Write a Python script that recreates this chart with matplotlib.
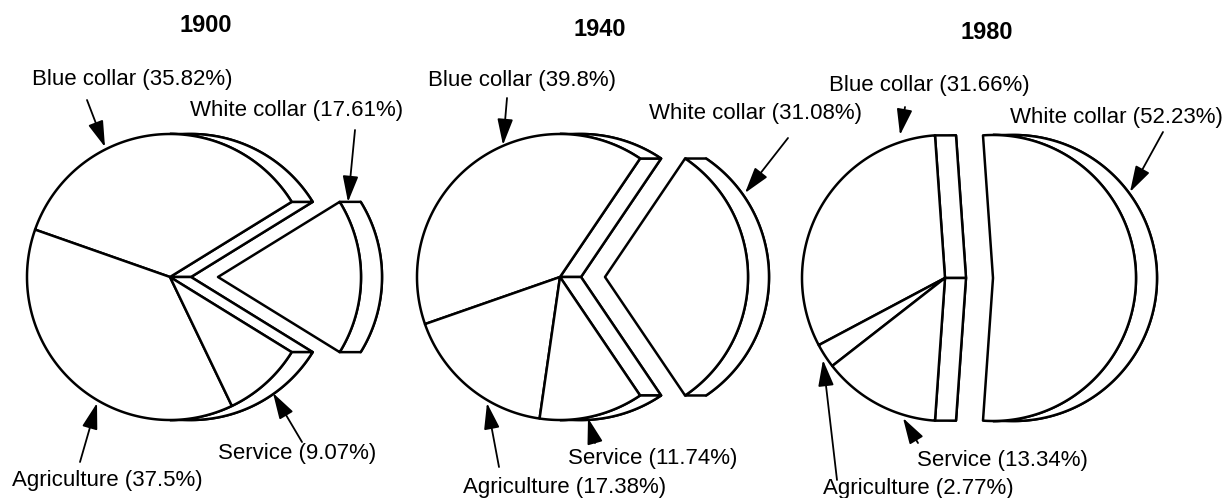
import numpy as np
import matplotlib
matplotlib.use("Agg")
import matplotlib.pyplot as plt
from matplotlib.patches import Polygon

plt.rcParams['font.family'] = ['Liberation Sans', 'DejaVu Sans']

# shares of the labour force (%), one value per year
years = ['1900', '1940', '1980']
white_collar = [17.61, 31.08, 52.23]
blue_collar = [35.82, 39.8, 31.66]
agriculture = [37.5, 17.38, 2.77]
service = [9.07, 11.74, 13.34]

# layout in pixels (y measured from the top)
centers = [(170, 277), (560, 277), (945, 278)]
title_pos = [(206, 25), (600, 29), (987, 32)]
R = 143          # pie radius
DEPTH = 21       # sideways extrusion of the "3d" pies
EXPLODE = [48, 45, 48]

# label anchor (left, middle) and arrow tail -> tip
blue_lab = [(32, 79), (428, 80), (829, 85)]
white_lab = [(190, 110), (649, 113), (1010, 117)]
service_lab = [(218, 453), (568, 458), (917, 460)]
agri_lab = [(12, 480), (463, 487), (823, 488)]
blue_arr = [((87, 100), (105, 147)), ((507, 98), (503, 145)), ((905, 107), (900, 135))]
white_arr = [((355, 130), (348, 202)), ((788, 138), (745, 193)), ((1163, 132), (1130, 192))]
service_arr = [((302, 442), (273, 393)), ((595, 443), (588, 418)), ((918, 443), (903, 418))]
agri_arr = [((80, 462), (97, 403)), ((499, 467), (487, 403)), ((837, 480), (823, 360))]

LW = 1.8


def arc(cx, cy, a1, a2, n=200):
    t = np.radians(np.linspace(a1, a2, n))
    return np.column_stack([cx + R * np.cos(t), cy - R * np.sin(t)])


def wedge_pts(cx, cy, a1, a2):
    return np.vstack([[cx, cy], arc(cx, cy, a1, a2)])


def add_poly(ax, pts, z):
    ax.add_patch(Polygon(pts, closed=True, facecolor='white', edgecolor='black',
                         lw=LW, joinstyle='round', zorder=z))


def body(ax, cx, cy, a1, a2):
    # back face, then the side faces that look to the right
    off = np.array([DEPTH, 0])
    add_poly(ax, wedge_pts(cx, cy, a1, a2) + off, 1)
    apex = np.array([cx, cy])
    p1 = arc(cx, cy, a1, a1, 1)[0]
    p2 = arc(cx, cy, a2, a2, 1)[0]
    if np.sin(np.radians(a1)) > 0:
        add_poly(ax, [apex, p1, p1 + off, apex + off], 2)
    if np.sin(np.radians(a2)) < 0:
        add_poly(ax, [p2, apex, apex + off, p2 + off], 2)
    # curved side: split where the rim turns away
    angs = list(np.linspace(a1, a2, 400))
    k = np.ceil((a1 - 90) / 180)
    while 90 + 180 * k < a2:
        angs.append(90 + 180 * k)
        k += 1
    angs = np.sort(angs)
    mids = (angs[:-1] + angs[1:]) / 2
    vis = np.cos(np.radians(mids)) > 0
    i = 0
    while i < len(vis):
        if vis[i]:
            j = i
            while j < len(vis) and vis[j]:
                j += 1
            seg = angs[i:j + 1]
            front = np.column_stack([cx + R * np.cos(np.radians(seg)),
                                     cy - R * np.sin(np.radians(seg))])
            add_poly(ax, np.vstack([front, (front + off)[::-1]]), 2)
            i = j
        else:
            i += 1


fig = plt.figure(figsize=(12.32, 4.98), dpi=100)
ax = fig.add_axes([0, 0, 1, 1])
ax.set_xlim(0, 1232)
ax.set_ylim(498, 0)
ax.axis('off')

for n, yr in enumerate(years):
    cx, cy = centers[n]
    w = white_collar[n] * 3.6
    half = w / 2
    # main pie: blue collar, agriculture, service going counter-clockwise
    body(ax, cx, cy, half, 360 - half)
    start = half
    for v in [blue_collar[n], agriculture[n], service[n]]:
        end = start + v * 3.6
        add_poly(ax, wedge_pts(cx, cy, start, end), 3)
        start = end
    # exploded white collar slice
    ex = cx + EXPLODE[n]
    body(ax, ex, cy, -half, half)
    add_poly(ax, wedge_pts(ex, cy, -half, half), 3)

    ax.text(*title_pos[n], yr, ha='center', va='center', fontsize=17, fontweight='bold')

    labs = [('Blue collar', blue_collar, blue_lab, blue_arr),
            ('White collar', white_collar, white_lab, white_arr),
            ('Service', service, service_lab, service_arr),
            ('Agriculture', agriculture, agri_lab, agri_arr)]
    for name, vals, pos, arr in labs:
        ax.text(pos[n][0], pos[n][1], f"{name} ({vals[n]:g}%)", ha='left', va='center',
                fontsize=16)
        tail, tip = arr[n]
        ax.annotate('', xy=tip, xytext=tail, zorder=5,
                    arrowprops=dict(arrowstyle='-|>,head_length=1.0,head_width=0.3',
                                    color='black', lw=1.3, shrinkA=0, shrinkB=0,
                                    mutation_scale=16))

fig.savefig('out.png', dpi=100, facecolor='white')
